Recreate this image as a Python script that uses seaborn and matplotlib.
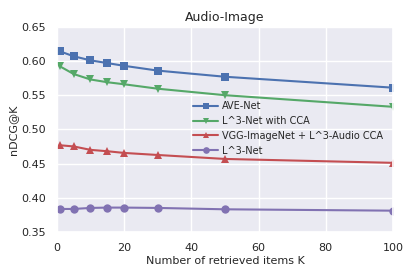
import matplotlib
matplotlib.use("Agg")
import pandas as pd
import seaborn as sns
import matplotlib.pyplot as plt

# data
k_values = [1, 5, 10, 15, 20, 30, 50, 100]
ave_net = [0.614, 0.607, 0.601, 0.597, 0.593, 0.586, 0.577, 0.561]
l3_cca = [0.592, 0.581, 0.573, 0.569, 0.566, 0.5595, 0.550, 0.533]
vgg_cca = [0.4767, 0.475, 0.470, 0.468, 0.4655, 0.4625, 0.4567, 0.451]
l3_net = [0.3835, 0.3835, 0.385, 0.3855, 0.3855, 0.385, 0.383, 0.381]
series_names = ["AVE-Net", "L^3-Net with CCA", "VGG-ImageNet + L^3-Audio CCA", "L^3-Net"]

sns.set_theme(style="darkgrid")
colors = ["#4C72B0", "#55A868", "#C44E52", "#8172B2"]
markers = ["s", "v", "^", "o"]

rows = []
for name, vals in zip(series_names, [ave_net, l3_cca, vgg_cca, l3_net]):
    for k, v in zip(k_values, vals):
        rows.append({"K": k, "nDCG": v, "method": name})
df = pd.DataFrame(rows)

fig, ax = plt.subplots(figsize=(4.15, 2.77), dpi=100)
sns.lineplot(data=df, x="K", y="nDCG", hue="method", style="method",
             palette=colors, markers=markers, dashes=False, markersize=6,
             markeredgewidth=0, linewidth=1.5, ax=ax)

ax.set_xlim(0, 100)
ax.set_ylim(0.35, 0.65)
ax.set_xticks([0, 20, 40, 60, 80, 100])
ax.set_yticks([0.35, 0.40, 0.45, 0.50, 0.55, 0.60, 0.65])
ax.tick_params(labelsize=8, pad=2)
ax.set_xlabel("Number of retrieved items K", fontsize=8, labelpad=2)
ax.set_ylabel("nDCG@K", fontsize=8, labelpad=2)
ax.set_title("Audio-Image", fontsize=9, pad=4)
leg = ax.legend(loc="center right", bbox_to_anchor=(0.995, 0.505), frameon=False,
                fontsize=7, handlelength=2.6, handletextpad=0.35,
                labelspacing=0.5, markerscale=0.8)

fig.subplots_adjust(left=0.137, right=0.947, top=0.903, bottom=0.163)
fig.savefig("out.png", dpi=100)
